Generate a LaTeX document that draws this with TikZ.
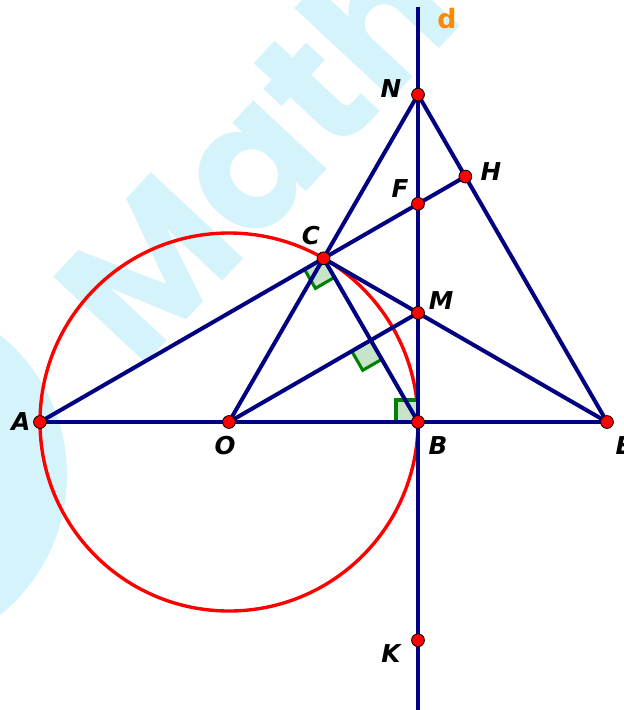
\documentclass[tikz,border=0pt]{standalone}
\usepackage{fontspec}
\newfontfamily\labfont{DejaVu Sans}
\newfontfamily\wmfont{Poppins}
\usetikzlibrary{calc}
\definecolor{navyline}{RGB}{0,0,128}
\definecolor{wmcyan}{RGB}{213,243,251}
\definecolor{ragreen}{RGB}{0,128,0}
\definecolor{rafill}{RGB}{200,228,200}
\definecolor{dorange}{RGB}{255,136,0}
\begin{document}
\begin{tikzpicture}[x=0.025cm,y=-0.025cm,
  seg/.style={draw=navyline,line width=2.85pt},
  circ/.style={draw=red,line width=2.4pt},
  pt/.style={circle,fill=red,draw=black,line width=0.6pt,inner sep=0pt,minimum size=0.32cm},
  lab/.style={font=\labfont\bfseries\itshape\fontsize{17.5}{17.5}\selectfont,text=black,inner sep=0pt},
  ramark/.style={draw=ragreen,fill=rafill,line width=2.2pt,line join=miter}]
\useasboundingbox (0,0) rectangle (624,710);
% watermark
\begin{scope}
\clip (0,0) rectangle (624,710);
\fill[wmcyan] (-113,475) circle[radius=180];
\node[rotate=47,text=wmcyan,font=\wmfont\bfseries\fontsize{128}{128}\selectfont,inner sep=0pt] (wm) at (255,150) {Math};
\end{scope}
% points
\coordinate (A) at (40,422);
\coordinate (O) at (229,422);
\coordinate (B) at (418,422);
\coordinate (E) at (607,422);
\coordinate (C) at (323.5,258.3);
\coordinate (M) at (418,312.9);
\coordinate (N) at (418,94.6);
\coordinate (F) at (418,203.8);
\coordinate (K) at (418,640.2);
\coordinate (H) at (intersection of A--F and N--E);
\coordinate (I) at (intersection of O--M and C--B);
\coordinate (dtop) at (418,7);
\coordinate (dbot) at (418,715);
% circle
\draw[circ] (O) circle[radius=189];
% right angle marks
\coordinate (ca) at ($(C)!0.55cm!(A)$);
\coordinate (cb) at ($(C)!0.55cm!(B)$);
\draw[ramark] (C) -- (ca) -- ($(ca)+(cb)-(C)$) -- (cb) -- cycle;
\coordinate (io) at ($(I)!0.55cm!(O)$);
\coordinate (ib) at ($(I)!0.55cm!(B)$);
\draw[ramark] (I) -- (io) -- ($(io)+(ib)-(I)$) -- (ib) -- cycle;
\coordinate (bo) at ($(B)!0.55cm!(O)$);
\coordinate (bn) at ($(B)!0.55cm!(N)$);
\draw[ramark] (B) -- (bo) -- ($(bo)+(bn)-(B)$) -- (bn) -- cycle;
% segments
\draw[seg] (dtop) -- (dbot);
\draw[seg] (A) -- (E);
\draw[seg] (A) -- (H);
\draw[seg] (O) -- (N);
\draw[seg] (N) -- (E);
\draw[seg] (C) -- (E);
\draw[seg] (O) -- (M);
\draw[seg] (C) -- (B);
% point markers
\foreach \p in {A,O,B,E,C,M,N,F,K,H}
  \node[pt] (p\p) at (\p) {};
% labels
\node[lab] (lA) at (21,422) {A};
\node[lab] (lO) at (225,446) {O};
\node[lab] (lB) at (438,446) {B};
\node[lab] (lE) at (624,446) {E};
\node[lab] (lC) at (311,236) {C};
\node[lab] (lM) at (441,301) {M};
\node[lab] (lN) at (391,89) {N};
\node[lab] (lF) at (400,189) {F};
\node[lab] (lH) at (491,172) {H};
\node[lab] (lK) at (391,654) {K};
\node[font=\labfont\bfseries\fontsize{19}{19}\selectfont,text=dorange,inner sep=0pt] (ld) at (447,19) {d};
\end{tikzpicture}
\end{document}
